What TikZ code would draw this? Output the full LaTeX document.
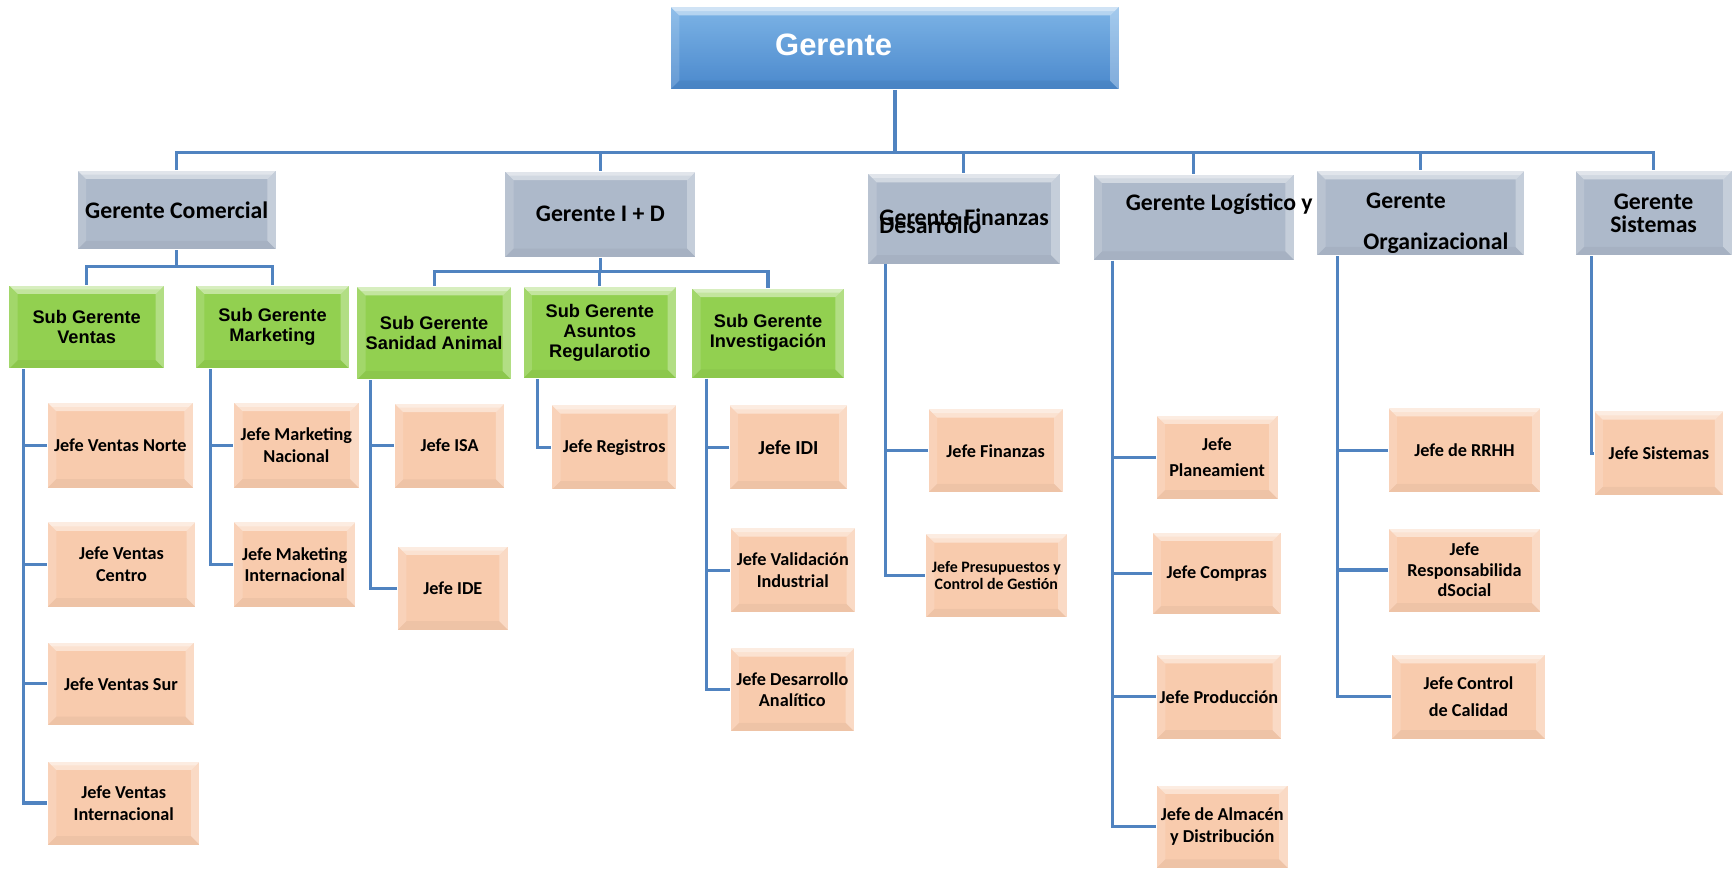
\documentclass[tikz,border=0pt]{standalone}
\usepackage{fontspec}
\setmainfont{Carlito}
\newfontfamily\arialfont{Liberation Sans}
\definecolor{bosslight}{HTML}{7DB4E6}
\definecolor{bossdark}{HTML}{4A88CC}
\definecolor{mgrgrey}{HTML}{ADB9CA}
\definecolor{subgreen}{HTML}{92D050}
\definecolor{chiefpeach}{HTML}{F8CBAD}
\definecolor{linkblue}{HTML}{5083C0}
\tikzset{
  % light top and sides, darker bottom, like an office bevel
  bevel frame/.style={
    path picture={
      \coordinate (bnw) at (path picture bounding box.north west);
      \coordinate (bne) at (path picture bounding box.north east);
      \coordinate (bsw) at (path picture bounding box.south west);
      \coordinate (bse) at (path picture bounding box.south east);
      \fill[white, opacity=.45] (bnw) -- (bne)
        -- ([shift={(-#1,#1)}]bne) -- ([shift={(#1,#1)}]bnw) -- cycle;
      \fill[white, opacity=.35] (bnw) -- (bne)
        -- ([shift={(-#1/2,#1/2)}]bne) -- ([shift={(#1/2,#1/2)}]bnw) -- cycle;
      \fill[white, opacity=.15] (bnw) -- ([shift={(#1,#1)}]bnw)
        -- ([shift={(#1,-#1)}]bsw) -- (bsw) -- cycle;
      \fill[white, opacity=.3] (bne) -- ([shift={(-#1,#1)}]bne)
        -- ([shift={(-#1,-#1)}]bse) -- (bse) -- cycle;
      \fill[black, opacity=.04] (bsw) -- ([shift={(#1,-#1)}]bsw)
        -- ([shift={(-#1,-#1)}]bse) -- (bse) -- cycle;
    }
  },
  bevel frame/.default = 8
}
\tikzset {
  chart box/.style = {
    rectangle,
    inner sep = 0pt,
    draw = white,
    line width = .8pt,
    align = center,
    bevel frame
  },
  box size/.style 2 args = {
    minimum width = #1pt,
    minimum height = #2pt
  },
  % level 1
  boss/.style = {
    chart box,
    top color = bosslight,
    bottom color = bossdark
  },
  boss text/.style = {
    text = white,
    font = \arialfont\bfseries\fontsize{28}{30}\selectfont
  },
  % level 2
  manager/.style = {
    chart box,
    fill = mgrgrey,
    font = \bfseries\fontsize{21.5}{21.5}\selectfont
  },
  manager text/.style = {
    inner sep = 0pt,
    font = \bfseries\fontsize{21.5}{21.5}\selectfont
  },
  % level 3
  submanager/.style = {
    chart box,
    fill = subgreen,
    font = \arialfont\bfseries\fontsize{16.5}{18}\selectfont
  },
  % level 4
  chief/.style = {
    chart box,
    fill = chiefpeach,
    font = \bfseries\fontsize{16.5}{19.5}\selectfont
  },
  link/.style = {
    draw = linkblue,
    line width = 2.8pt
  }
}

\begin{document}
\begin{tikzpicture}[x=1pt, y=-1pt]
  \useasboundingbox (0,0) rectangle (1568,786);

  % level 1
  \node[boss, box size={406}{75}] (gerente) at (810,43.5) {};
  \node[boss text, anchor=base west, inner sep=0pt] (gerente-text) at (701.6,50) {Gerente};

  % level 2
  \node[manager, box size={180}{72}] (comercial) at (160,190) {Gerente Comercial};
  \node[manager, box size={173}{78}] (id) at (543.5,194) {Gerente I + D};
  \node[manager, box size={174}{82}] (finanzas) at (872.6,198) {};
  \node[manager, box size={182}{78}] (logistico) at (1080.6,196.5) {};
  \node[manager, box size={188}{77}] (organizacional) at (1286,193) {};
  \node[manager, box size={142}{77}] (sistemas) at (1497,193) {Gerente\\Sistemas};

  \node[manager text, anchor=base west] (finanzas-text) at (796,203.7) {Gerente Finanzas};
  \node[manager text, anchor=base west] (finanzas-text2) at (796,211) {Desarrollo};
  \node[manager text, anchor=base west] (logistico-text) at (1019,191) {Gerente Logístico y};
  \node[manager text, anchor=base west] (organizacional-text) at (1236.6,188.6) {Gerente};
  \node[manager text, anchor=base west] (organizacional-text2) at (1234,225.5) {Organizacional};

  % level 3
  \node[submanager, box size={141}{76}] (ventas) at (78.5,296) {Sub Gerente\\Ventas};
  \node[submanager, box size={139.5}{76}] (marketing) at (246.7,296) {Sub Gerente\\Marketing};
  \node[submanager, box size={140}{84.5}] (sanidad) at (393,301.7) {Sub Gerente\\Sanidad Animal};
  \node[submanager, box size={139}{83.5}] (asuntos) at (543,301) {Sub Gerente\\Asuntos\\Regularotio};
  \node[submanager, box size={138}{81.5}] (investigacion) at (695.3,301.7) {Sub Gerente\\Investigación};

  % level 4
  \node[chief, box size={132}{77.5}] (vnorte) at (109,403) {Jefe Ventas Norte};
  \node[chief, box size={134}{77}] (vcentro) at (110,511) {Jefe Ventas\\Centro};
  \node[chief, box size={133}{75.5}] (vsur) at (109.5,619) {Jefe Ventas Sur};
  \node[chief, box size={138}{76}] (vinter) at (112,727) {Jefe Ventas\\Internacional};

  \node[chief, box size={113.5}{77.5}] (mnacional) at (268.3,403) {Jefe Marketing\\Nacional};
  \node[chief, box size={110.5}{77}] (minter) at (266.8,511) {Jefe Maketing\\Internacional};

  \node[chief, box size={100}{77}] (isa) at (407,403.5) {Jefe ISA};
  \node[chief, box size={100}{76}] (ide) at (410,532.4) {Jefe IDE};

  \node[chief, box size={113}{77}] (registros) at (556,405) {Jefe Registros};

  \node[chief, box size={107.6}{77}, font=\bfseries\fontsize{18}{20}\selectfont] (idi) at (713.8,405) {Jefe IDI};
  \node[chief, box size={113.4}{77}] (validacion) at (717.7,516.2) {Jefe Validación\\Industrial};
  \node[chief, box size={112.6}{76}] (desarrollo) at (717.3,624.4) {Jefe Desarrollo\\Analítico};

  \node[chief, box size={122}{76}] (jfinanzas) at (901.4,408) {Jefe Finanzas};
  \node[chief, box size={128}{76}, font=\bfseries\fontsize{14.4}{15.4}\selectfont] (presupuestos) at (902,521.3) {Jefe Presupuestos y\\Control de Gestión};

  \node[chief, box size={110.4}{76}] (planeamiento) at (1101.8,413.8) {Jefe\\[4.2pt]Planeamient};
  \node[chief, box size={117}{75}] (compras) at (1101.5,519.2) {Jefe Compras};
  \node[chief, box size={113}{76.4}] (produccion) at (1103.5,630.8) {Jefe Producción};
  \node[chief, box size={119}{75.3}] (almacen) at (1106.5,748.3) {Jefe de Almacén\\y Distribución};

  \node[chief, box size={138.4}{77}] (rrhh) at (1325.8,407.5) {Jefe de RRHH};
  \node[chief, box size={138.4}{76}, font=\bfseries\fontsize{16.5}{18.5}\selectfont] (responsabilidad) at (1325.8,516) {Jefe\\Responsabilida\\dSocial};
  \node[chief, box size={138.7}{76.4}] (calidad) at (1329.4,630.8) {Jefe Control\\[5pt]de Calidad};

  \node[chief, box size={117.5}{76.8}] (jsistemas) at (1501.8,410.4) {Jefe Sistemas};

  % connectors, level 1 to 2
  \coordinate (top-bus) at ([yshift=-57pt]gerente.south);
  \draw[link, line width=4pt] (gerente.south) -- (top-bus);
  \draw[link] (top-bus) -| (comercial.north)
    (top-bus) -| (id.north)
    (top-bus) -| (finanzas.north)
    (top-bus) -| (logistico.north)
    (top-bus) -| (organizacional.north)
    (top-bus) -| (sistemas.north);

  % level 2 to 3
  \coordinate (comercial-bus) at ([yshift=-14.5pt]comercial.south);
  \draw[link] (comercial.south) -- (comercial-bus)
    (comercial-bus) -| (ventas.north)
    (comercial-bus) -| (marketing.north);
  \coordinate (id-bus) at ([yshift=-12pt]id.south);
  \draw[link] (id.south) -- (id-bus)
    (id-bus) -| (sanidad.north)
    (id-bus) -| (asuntos.north)
    (id-bus) -| (investigacion.north);

  % down to level 4
  \coordinate (ventas-line) at ([xshift=14pt]ventas.south west);
  \draw[link] (ventas-line) |- (vnorte.west)
    (ventas-line) |- (vcentro.west)
    (ventas-line) |- (vsur.west)
    (ventas-line) |- (vinter.west);
  \coordinate (marketing-line) at ([xshift=14pt]marketing.south west);
  \draw[link] (marketing-line) |- (mnacional.west)
    (marketing-line) |- (minter.west);
  \coordinate (sanidad-line) at ([xshift=13pt]sanidad.south west);
  \draw[link] (sanidad-line) |- (isa.west)
    (sanidad-line) |- (ide.west);
  \coordinate (asuntos-line) at ([xshift=13.6pt]asuntos.south west);
  \draw[link] (asuntos-line) |- (registros.west);
  \coordinate (investigacion-line) at ([xshift=13.7pt]investigacion.south west);
  \draw[link] (investigacion-line) |- (idi.west)
    (investigacion-line) |- (validacion.west)
    (investigacion-line) |- (desarrollo.west);
  \coordinate (finanzas-line) at ([xshift=16.8pt]finanzas.south west);
  \draw[link] (finanzas-line) |- (jfinanzas.west)
    (finanzas-line) |- (presupuestos.west);
  \coordinate (logistico-line) at ([xshift=18pt]logistico.south west);
  \draw[link] (logistico-line) |- (planeamiento.west)
    (logistico-line) |- (compras.west)
    (logistico-line) |- (produccion.west)
    (logistico-line) |- (almacen.west);
  \coordinate (organizacional-line) at ([xshift=19pt]organizacional.south west);
  \draw[link] (organizacional-line) |- (rrhh.west)
    (organizacional-line) |- (responsabilidad.west)
    (organizacional-line) |- (calidad.west);
  \coordinate (sistemas-line) at ([xshift=15pt]sistemas.south west);
  \draw[link] (sistemas-line) |- (jsistemas.west);
\end{tikzpicture}
\end{document}
